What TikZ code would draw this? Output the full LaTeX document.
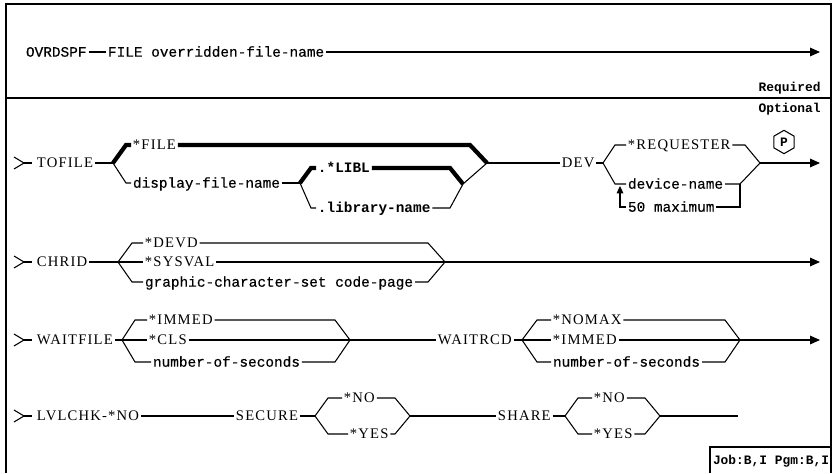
\documentclass[tikz,border=0pt]{standalone}
\usepackage{fontspec}
\newfontfamily\kwfont[LetterSpace=8]{Liberation Serif}
\newfontfamily\varfont[FakeBold=0.4]{Liberation Mono}
\newfontfamily\monofont{Liberation Mono}
\usetikzlibrary{arrows.meta, shapes.geometric}
\tikzset{
  kw/.style={anchor=west, inner sep=1.5pt, font=\fontsize{12.5}{14}\kwfont, text height=8pt, text depth=0pt},
  var/.style={kw, font=\fontsize{12.3}{14}\varfont},
  bvar/.style={kw, font=\fontsize{12.3}{14}\monofont\bfseries},
  rail/.style={line width=0.9pt},
  dflt/.style={line width=3.6pt, line join=miter},
  arr/.style={rail, -{Triangle[length=3mm, width=2.6mm]}},
  uparr/.style={rail, -{Triangle[length=2.2mm, width=2mm]}},
  sectlabel/.style={font=\fontsize{11}{12}\monofont\bfseries, inner sep=1pt},
  pbox/.style={draw, line width=0.9pt, regular polygon, regular polygon sides=6, shape border rotate=30, minimum size=0.7cm, inner sep=0pt, font=\fontsize{11}{12}\monofont\bfseries}
}
\begin{document}
\begin{tikzpicture}[x=0.03cm, y=-0.03cm]
  \useasboundingbox (0,0) rectangle (837,473);

  % frame and required / optional split
  \draw[rail] (6,473) -- (6,4) -- (831,4) -- (831,473);
  \draw[rail] (6,98) -- (831,98);
  \node[sectlabel, anchor=east] (req) at (822,88) {Required};
  \node[sectlabel, anchor=east] (opt) at (822,109) {Optional};

  % required part
  \node[var] (ovr) at (24,52) {OVRDSPF};
  \node[var] (ovfile) at (106,52) {FILE overridden-file-name};
  \coordinate (end1) at (820,52);
  \draw[rail] (ovr) -- (ovfile);
  \draw[arr] (ovfile) -- (end1);

  % entry marks of the optional rows
  \foreach \y in {163,262,340,416} {
    \draw[rail] (14,\y-6) -- (24,\y) -- (14,\y+6);
    \draw[rail] (24,\y) -- (32,\y);
  }

  % TOFILE ... DEV
  \node[kw] (tofile) at (35,163) {TOFILE};
  \coordinate (tof-in) at (113,163);
  \node[kw] (filestar) at (131,145) {*FILE};
  \node[var] (dspname) at (131,183) {display-file-name};
  \coordinate (lib-in) at (300,183);
  \node[bvar] (libl) at (316,168) {.*LIBL};
  \node[bvar] (libname) at (316,208) {.library-name};
  \coordinate (lib-out) at (463,184);
  \coordinate (tof-out) at (487,163);
  \node[kw] (dev) at (560,163) {DEV};
  \coordinate (dev-in) at (603,163);
  \node[kw] (requester) at (626,145) {*REQUESTER};
  \node[var] (devname) at (626,184) {device-name};
  \node[var] (maxdev) at (626,207) {50 maximum};
  \coordinate (dev-out) at (760,163);
  \coordinate (end2) at (820,163);
  \node[pbox] (pmark) at (784,142) {P};

  \draw[rail] (tofile) -- (tof-in);
  \draw[dflt] (tof-in) -- (126,145) -- (filestar);
  \draw[dflt] (filestar) -- (470,145) -- (tof-out);
  \draw[rail] (tof-in) -- (126,183) -- (dspname);
  \draw[rail] (dspname) -- (lib-in);
  \draw[dflt] (lib-in) -- (311,168) -- (libl);
  \draw[dflt] (libl) -- (450,168) -- (lib-out);
  \draw[rail] (lib-in) -- (311,208) -- (libname);
  \draw[rail] (libname) -- (450,208) -- (lib-out);
  \draw[rail] (lib-out) -- (tof-out);
  \draw[rail] (tof-out) -- (dev);
  \draw[rail] (dev) -- (dev-in);
  \draw[rail] (dev-in) -- (615,145) -- (requester);
  \draw[rail] (requester) -- (745,145) -- (dev-out);
  \draw[rail] (dev-in) -- (615,184) -- (devname);
  \draw[rail] (devname) -- (740,184) -- (dev-out);
  \draw[rail] (740,184) -- (740,207) -- (maxdev);
  \draw[uparr] (maxdev) -- (620,207) -- (620,186);
  \draw[arr] (dev-out) -- (end2);

  % CHRID
  \node[kw] (chrid) at (35,262) {CHRID};
  \coordinate (chr-in) at (118,262);
  \node[kw] (devd) at (143,243) {*DEVD};
  \node[kw] (sysval) at (143,262) {*SYSVAL};
  \node[var] (gcsid) at (143,282) {graphic-character-set code-page};
  \coordinate (chr-out) at (445,262);
  \coordinate (end3) at (820,262);

  \draw[rail] (chrid) -- (chr-in);
  \draw[rail] (chr-in) -- (132,243) -- (devd);
  \draw[rail] (devd) -- (428,243) -- (chr-out);
  \draw[rail] (chr-in) -- (sysval);
  \draw[rail] (sysval) -- (chr-out);
  \draw[rail] (chr-in) -- (132,282) -- (gcsid);
  \draw[rail] (gcsid) -- (428,282) -- (chr-out);
  \draw[arr] (chr-out) -- (end3);

  % WAITFILE ... WAITRCD
  \node[kw] (waitfile) at (35,340) {WAITFILE};
  \coordinate (wf-in) at (122,340);
  \node[kw] (immed) at (147,320) {*IMMED};
  \node[kw] (cls) at (147,340) {*CLS};
  \node[var] (fsecs) at (151,362) {number-of-seconds};
  \coordinate (wf-out) at (350,340);
  \node[kw] (waitrcd) at (436,340) {WAITRCD};
  \coordinate (wr-in) at (522,340);
  \node[kw] (nomax) at (551,320) {*NOMAX};
  \node[kw] (rimmed) at (551,340) {*IMMED};
  \node[var] (rsecs) at (551,362) {number-of-seconds};
  \coordinate (wr-out) at (740,340);
  \coordinate (end4) at (820,340);

  \draw[rail] (waitfile) -- (wf-in);
  \draw[rail] (wf-in) -- (135,320) -- (immed);
  \draw[rail] (immed) -- (335,320) -- (wf-out);
  \draw[rail] (wf-in) -- (cls);
  \draw[rail] (cls) -- (wf-out);
  \draw[rail] (wf-in) -- (135,362) -- (fsecs);
  \draw[rail] (fsecs) -- (335,362) -- (wf-out);
  \draw[rail] (wf-out) -- (waitrcd);
  \draw[rail] (waitrcd) -- (wr-in);
  \draw[rail] (wr-in) -- (537,320) -- (nomax);
  \draw[rail] (nomax) -- (725,320) -- (wr-out);
  \draw[rail] (wr-in) -- (rimmed);
  \draw[rail] (rimmed) -- (wr-out);
  \draw[rail] (wr-in) -- (537,362) -- (rsecs);
  \draw[rail] (rsecs) -- (725,362) -- (wr-out);
  \draw[arr] (wr-out) -- (end4);

  % LVLCHK, SECURE, SHARE
  \node[kw] (lvlchk) at (35,416) {LVLCHK-*NO};
  \node[kw] (secure) at (234,416) {SECURE};
  \coordinate (sec-in) at (315,416);
  \node[kw] (secno) at (342,398) {*NO};
  \node[kw] (secyes) at (348,434) {*YES};
  \coordinate (sec-out) at (410,416);
  \node[kw] (share) at (496,416) {SHARE};
  \coordinate (sh-in) at (565,416);
  \node[kw] (shno) at (592,398) {*NO};
  \node[kw] (shyes) at (592,434) {*YES};
  \coordinate (sh-out) at (660,416);
  \coordinate (end5) at (738,416);

  \draw[rail] (lvlchk) -- (secure);
  \draw[rail] (secure) -- (sec-in);
  \draw[rail] (sec-in) -- (328,398) -- (secno);
  \draw[rail] (secno) -- (395,398) -- (sec-out);
  \draw[rail] (sec-in) -- (328,434) -- (secyes);
  \draw[rail] (secyes) -- (395,434) -- (sec-out);
  \draw[rail] (sec-out) -- (share);
  \draw[rail] (share) -- (sh-in);
  \draw[rail] (sh-in) -- (578,398) -- (shno);
  \draw[rail] (shno) -- (645,398) -- (sh-out);
  \draw[rail] (sh-in) -- (578,434) -- (shyes);
  \draw[rail] (shyes) -- (645,434) -- (sh-out);
  \draw[rail] (sh-out) -- (end5);

  % environment tag
  \node[sectlabel] (job) at (771,461) {Job:B,I Pgm:B,I};
  \draw[rail] (710,473) |- (831,447);
\end{tikzpicture}
\end{document}
